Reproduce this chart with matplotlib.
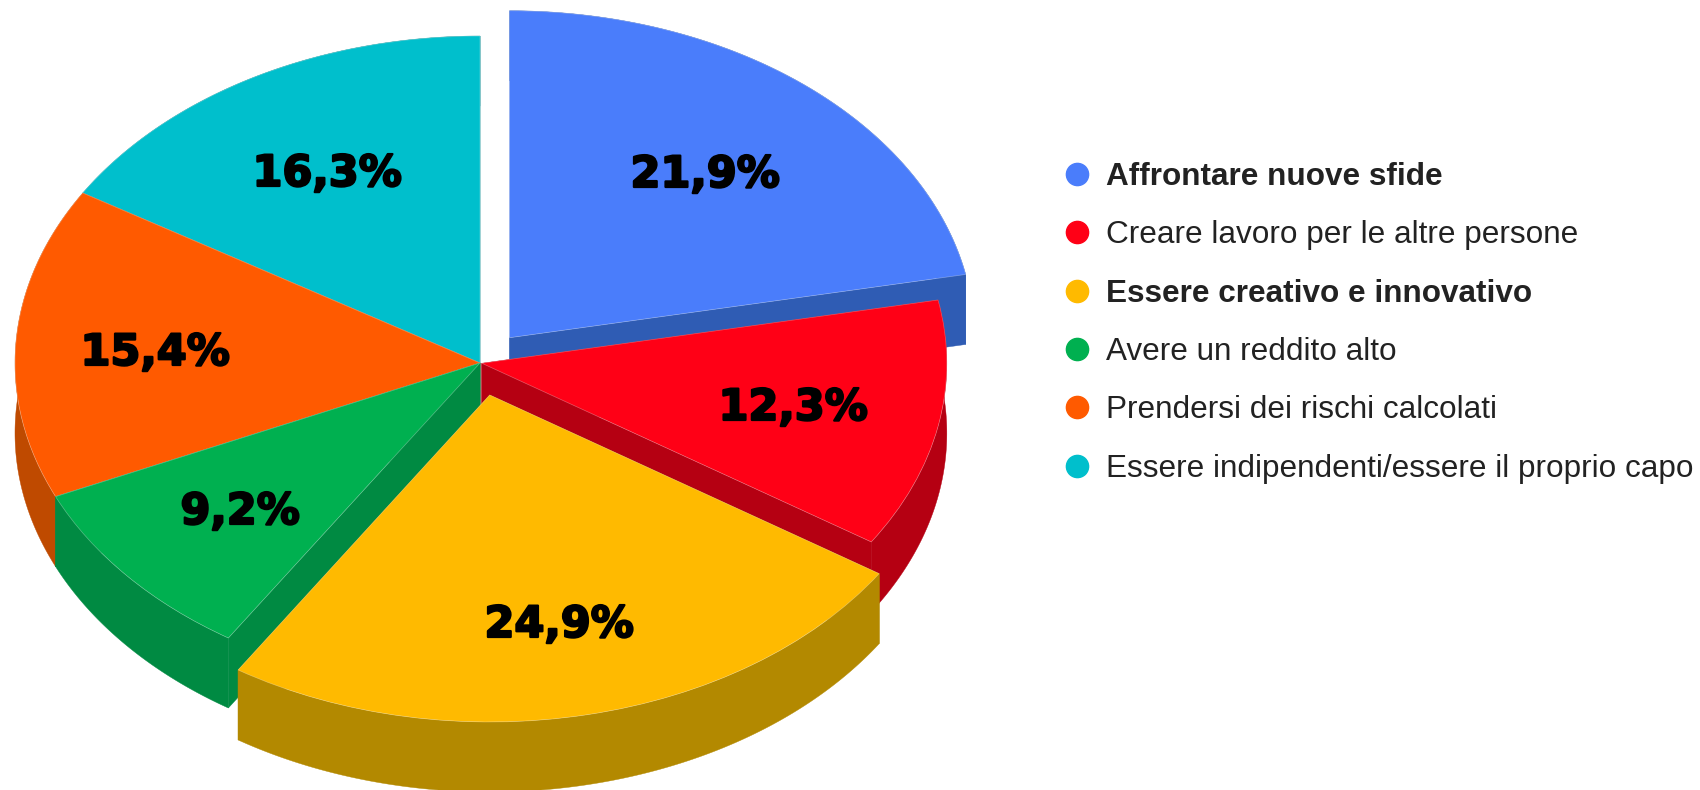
import numpy as np
import matplotlib
matplotlib.use("Agg")
import matplotlib.pyplot as plt
import matplotlib.patheffects as pe
from matplotlib.lines import Line2D
from matplotlib.patches import Polygon

categories = ["Affrontare nuove sfide", "Creare lavoro per le altre persone",
              "Essere creativo e innovativo", "Avere un reddito alto",
              "Prendersi dei rischi calcolati",
              "Essere indipendenti/essere il proprio capo"]
values = [21.9, 12.3, 24.9, 9.2, 15.4, 16.3]
value_labels = ["21,9%", "12,3%", "24,9%", "9,2%", "15,4%", "16,3%"]
bold_entries = [True, False, True, False, False, False]
explode = [0.1, 0.004, 0.1, 0, 0, 0]

top_colors = ["#4a7dfb", "#ff0016", "#ffba00", "#00b050", "#ff5a00", "#00bfcc"]
side_colors = ["#2f5cb4", "#b50012", "#b38900", "#008a42", "#bf4a00", "#008a90"]
draw_order = [5, 4, 0, 1, 3, 2]
label_px = [(705, 175), (793, 408), (559, 625), (240, 512), (155, 353), (327, 174)]

W, H = 1700, 790
CX, CY, RX, RY = 480, 363, 465, 327
DEPTH = 70 / RY

fig = plt.figure(figsize=(W / 100, H / 100), dpi=100, facecolor="white")
ax = fig.add_axes([0, 0, 1, 1])
wedges, _ = ax.pie(values, explode=explode, colors=top_colors, startangle=90,
                   counterclock=False, radius=1,
                   wedgeprops=dict(edgecolor="#ffffff55", linewidth=0.5))
ax.set_aspect("auto")
ax.set_xlim(-CX / RX, (W - CX) / RX)
ax.set_ylim((CY - H) / RY, CY / RY)
ax.axis("off")

for z, i in enumerate(draw_order):
    w = wedges[i]
    w.set_zorder(2 * z + 2)
    c = np.array(w.center)
    t = np.radians(np.linspace(w.theta1, w.theta2, 200))
    arc = c + w.r * np.column_stack([np.cos(t), np.sin(t)])
    down = np.array([0, -DEPTH])
    faces = [np.vstack([arc, (arc + down)[::-1]]),
             np.vstack([c, arc[0], arc[0] + down, c + down]),
             np.vstack([c, arc[-1], arc[-1] + down, c + down])]
    for f in faces:
        ax.add_patch(Polygon(f, closed=True, facecolor=side_colors[i],
                             edgecolor=side_colors[i], linewidth=0.3,
                             zorder=2 * z + 1))

for lab, (px, py) in zip(value_labels, label_px):
    ax.text((px - CX) / RX, (CY - py) / RY, lab, fontsize=31, fontweight="bold",
            family="DejaVu Sans", color="black", ha="center", va="center", zorder=30,
            path_effects=[pe.withStroke(linewidth=1.6, foreground="black")])

handles = [Line2D([], [], linestyle="none", marker="o", markersize=16,
                  markerfacecolor=c, markeredgecolor=c) for c in top_colors]
leg = ax.legend(handles, categories, loc="upper left",
                bbox_to_anchor=(1061 / W, 1 - 162 / H),
                bbox_transform=fig.transFigure, frameon=False,
                prop=dict(family="Liberation Sans", size=22.7),
                labelspacing=0.9, handletextpad=0.44, handlelength=1.0,
                borderpad=0, borderaxespad=0)
leg.set_zorder(40)
for txt, b in zip(leg.get_texts(), bold_entries):
    txt.set_color("#222222")
    if b:
        txt.set_fontweight("bold")

fig.savefig("out.png", dpi=100, facecolor="white")
